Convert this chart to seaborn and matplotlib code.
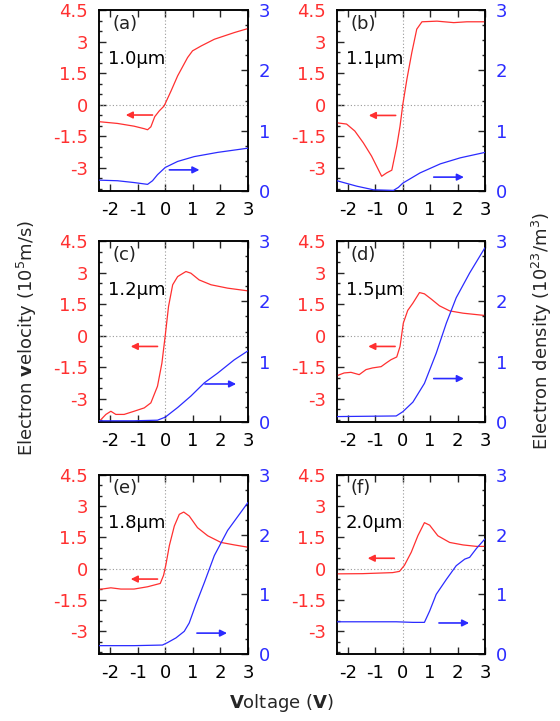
import matplotlib
matplotlib.use("Agg")
import matplotlib.pyplot as plt
import pandas as pd
import seaborn as sns
from matplotlib.ticker import FixedLocator, MultipleLocator

sns.set_style("ticks")
plt.rcParams['font.family'] = ['DejaVu Sans']
plt.rcParams['mathtext.fontset'] = 'custom'
plt.rcParams['mathtext.rm'] = 'DejaVu Sans'
plt.rcParams['mathtext.bf'] = 'DejaVu Sans:bold'
plt.rcParams['axes.unicode_minus'] = False

# ---------------- data ----------------
panel_labels = ["(a)", "(b)", "(c)", "(d)", "(e)", "(f)"]
lengths = ["1.0μm", "1.1μm", "1.2μm", "1.5μm", "1.8μm", "2.0μm"]

x_ticks = [-2, -1, 0, 1, 2, 3]
vel_ticks = [-3, -1.5, 0, 1.5, 3, 4.5]
vel_tick_labels = ["-3", "-1.5", "0", "1.5", "3", "4.5"]
den_ticks = [0, 1, 2, 3]

a_vel_x = [-2.37, -1.73, -1.13, -0.76, -0.64, -0.52, -0.38, -0.22, -0.04, 0.21, 0.45, 0.81, 0.99, 1.3, 1.78, 2.51, 3.0]
a_vel_y = [-0.81, -0.89, -1.02, -1.14, -1.19, -1.05, -0.57, -0.3, -0.06, 0.65, 1.37, 2.24, 2.56, 2.79, 3.11, 3.43, 3.62]
a_den_x = [-2.4, -1.73, -1.13, -0.64, -0.46, -0.28, 0.0, 0.45, 1.05, 1.9, 3.0]
a_den_y = [0.18, 0.17, 0.14, 0.11, 0.17, 0.27, 0.39, 0.49, 0.57, 0.64, 0.71]

b_vel_x = [-2.4, -2.05, -1.75, -1.44, -1.14, -0.77, -0.59, -0.4, -0.22, -0.1, 0.0, 0.15, 0.33, 0.51, 0.7, 1.25, 1.86, 2.34, 3.0]
b_vel_y = [-0.86, -0.92, -1.25, -1.81, -2.44, -3.4, -3.24, -3.11, -1.97, -1.02, 0.0, 1.21, 2.48, 3.59, 3.94, 3.97, 3.9, 3.94, 3.94]
b_den_x = [-2.4, -1.68, -1.07, -0.34, -0.16, 0.0, 0.63, 1.37, 2.1, 3.0]
b_den_y = [0.17, 0.08, 0.02, 0.01, 0.06, 0.13, 0.3, 0.45, 0.55, 0.64]

c_vel_x = [-2.34, -2.15, -1.97, -1.79, -1.49, -1.13, -0.76, -0.52, -0.28, -0.12, 0.0, 0.12, 0.27, 0.45, 0.75, 0.93, 1.23, 1.66, 2.26, 3.0]
c_vel_y = [-4.0, -3.74, -3.59, -3.74, -3.74, -3.59, -3.43, -3.19, -2.4, -1.3, 0.0, 1.39, 2.42, 2.81, 3.05, 2.97, 2.65, 2.42, 2.26, 2.13]
c_den_x = [-2.4, -1.13, -0.28, 0.0, 0.45, 0.93, 1.42, 1.9, 2.5, 3.0]
c_den_y = [0.02, 0.02, 0.03, 0.08, 0.24, 0.43, 0.65, 0.81, 1.03, 1.18]

d_vel_x = [-2.4, -2.14, -1.89, -1.59, -1.34, -1.1, -0.79, -0.61, -0.43, -0.22, -0.1, 0.02, 0.18, 0.37, 0.61, 0.79, 1.04, 1.34, 1.71, 2.2, 3.0]
d_vel_y = [-1.9, -1.77, -1.74, -1.85, -1.61, -1.53, -1.47, -1.3, -1.14, -1.01, -0.51, 0.6, 1.2, 1.55, 2.05, 1.99, 1.74, 1.42, 1.18, 1.07, 0.96]
d_den_x = [-2.4, -0.24, 0.0, 0.37, 0.79, 1.22, 1.59, 1.95, 2.44, 3.0]
d_den_y = [0.09, 0.1, 0.17, 0.33, 0.64, 1.14, 1.64, 2.06, 2.47, 2.89]

e_vel_x = [-2.4, -1.97, -1.61, -1.13, -0.64, -0.18, -0.06, 0.02, 0.15, 0.33, 0.51, 0.67, 0.87, 1.17, 1.54, 2.02, 2.51, 3.0]
e_vel_y = [-1.0, -0.92, -0.98, -0.98, -0.87, -0.71, -0.32, 0.16, 1.11, 2.05, 2.61, 2.72, 2.53, 1.97, 1.58, 1.26, 1.14, 1.03]
e_den_x = [-2.4, -1.13, -0.1, 0.08, 0.39, 0.69, 0.87, 1.11, 1.42, 1.78, 2.26, 3.0]
e_den_y = [0.14, 0.14, 0.15, 0.19, 0.27, 0.38, 0.52, 0.83, 1.2, 1.65, 2.07, 2.54]

f_vel_x = [-2.4, -1.47, -0.37, -0.12, 0.06, 0.31, 0.55, 0.79, 0.98, 1.28, 1.71, 2.2, 2.69, 3.0]
f_vel_y = [-0.25, -0.24, -0.19, -0.13, 0.16, 0.79, 1.58, 2.21, 2.09, 1.58, 1.26, 1.14, 1.07, 1.07]
f_den_x = [-2.4, -0.24, 0.37, 0.79, 0.98, 1.22, 1.59, 1.95, 2.26, 2.44, 2.69, 3.0]
f_den_y = [0.54, 0.54, 0.53, 0.53, 0.72, 1.0, 1.25, 1.48, 1.59, 1.62, 1.77, 1.93]

# arrows: (start x, end x, y)
red_arrows = [(-0.46, -1.43, -0.49), (-0.26, -1.24, -0.51), (-0.28, -1.25, -0.51),
              (-0.28, -1.26, -0.51), (-0.28, -1.25, -0.5), (-0.31, -1.28, 0.5)]
blue_arrows = [(0.15, 1.24, 0.35), (1.13, 2.23, 0.23), (1.44, 2.57, 0.63),
               (1.13, 2.23, 0.72), (1.15, 2.24, 0.35), (1.32, 2.42, 0.52)]

vel_series = [(a_vel_x, a_vel_y), (b_vel_x, b_vel_y), (c_vel_x, c_vel_y),
              (d_vel_x, d_vel_y), (e_vel_x, e_vel_y), (f_vel_x, f_vel_y)]
den_series = [(a_den_x, a_den_y), (b_den_x, b_den_y), (c_den_x, c_den_y),
              (d_den_x, d_den_y), (e_den_x, e_den_y), (f_den_x, f_den_y)]

RED = "#ff3030"
BLUE = "#2b2bff"
FS = 13
W, H = 560, 721
lefts = [99, 337]
rights = [248, 485]
tops = [10, 241, 475]
bottoms = [191, 422, 654]

fig = plt.figure(figsize=(W / 100, H / 100), dpi=100)

for i in range(6):
    r, c = divmod(i, 2)
    l, rr, t, b = lefts[c], rights[c], tops[r], bottoms[r]
    ax = fig.add_axes([l / W, 1 - b / H, (rr - l) / W, (b - t) / H])
    ax2 = ax.twinx()

    vx, vy = vel_series[i]
    dx, dy = den_series[i]
    df_v = pd.DataFrame({"V": vx, "vel": vy})
    df_d = pd.DataFrame({"V": dx, "den": dy})

    ax.axhline(0, color="#999999", ls=(0, (1, 2)), lw=0.8, zorder=1)
    ax.axvline(0, color="#999999", ls=(0, (1, 2)), lw=0.8, zorder=1)
    sns.lineplot(data=df_v, x="V", y="vel", ax=ax, color=RED, lw=0.9,
                 estimator=None, sort=False, zorder=3)
    sns.lineplot(data=df_d, x="V", y="den", ax=ax2, color=BLUE, lw=0.9,
                 estimator=None, sort=False, zorder=3)

    ax.set_xlim(-2.4, 3.0)
    ax.set_ylim(-4.1, 4.5)
    ax2.set_ylim(0, 3)
    for a in (ax, ax2):
        a.set_xlabel("")
        a.set_ylabel("")
        for s in a.spines.values():
            s.set_linewidth(1.1)
            s.set_color("black")

    ax.xaxis.set_major_locator(FixedLocator(x_ticks))
    ax.set_xticklabels([str(v) for v in x_ticks])
    ax.yaxis.set_major_locator(FixedLocator(vel_ticks))
    ax.set_yticklabels(vel_tick_labels)
    ax.yaxis.set_minor_locator(MultipleLocator(0.5))
    ax2.yaxis.set_major_locator(FixedLocator(den_ticks))
    ax2.set_yticklabels([str(v) for v in den_ticks])
    ax2.yaxis.set_minor_locator(MultipleLocator(0.25))

    ax.tick_params(axis="x", which="major", direction="in", top=True, bottom=True,
                   length=5, width=1, labelsize=FS, pad=7, labelcolor="black")
    ax.tick_params(axis="y", which="major", direction="in", left=True, right=False,
                   length=5, width=1, labelsize=FS, pad=8, labelcolor=RED)
    ax.tick_params(axis="y", which="minor", direction="in", left=True, right=False,
                   length=2.5, width=1)
    ax2.tick_params(axis="y", which="major", direction="in", right=True, left=False,
                    length=5, width=1, labelsize=FS, pad=8, labelcolor=BLUE)
    ax2.tick_params(axis="y", which="minor", direction="in", right=True, left=False,
                    length=2.5, width=1)

    rs, re, ry = red_arrows[i]
    ax.annotate("", xy=(re, ry), xytext=(rs, ry),
                arrowprops=dict(arrowstyle="-|>", color=RED, lw=1.2, mutation_scale=10,
                                shrinkA=0, shrinkB=0), zorder=4)
    bs, be, by = blue_arrows[i]
    ax2.annotate("", xy=(be, by), xytext=(bs, by),
                 arrowprops=dict(arrowstyle="-|>", color=BLUE, lw=1.2, mutation_scale=10,
                                 shrinkA=0, shrinkB=0), zorder=4)

    ax2.text(0.09, 0.975, panel_labels[i], transform=ax.transAxes, va="top", ha="left",
             fontsize=FS, color="#222222")
    ax2.text(0.06, 0.78, lengths[i], transform=ax.transAxes, va="top", ha="left",
             fontsize=FS, color="black")

fig.text(0.048, 0.531, r"Electron $\mathbf{v}$elocity (10$^5$m/s)", rotation=90,
         ha="center", va="center", fontsize=FS)
fig.text(0.968, 0.541, r"Electron density (10$^{23}$/m$^3$)", rotation=90,
         ha="center", va="center", fontsize=FS)
fig.text(0.502, 0.025, r"$\mathbf{V}$oltage ($\mathbf{V}$)", ha="center", va="center",
         fontsize=FS)

fig.savefig("out.png", dpi=100)
